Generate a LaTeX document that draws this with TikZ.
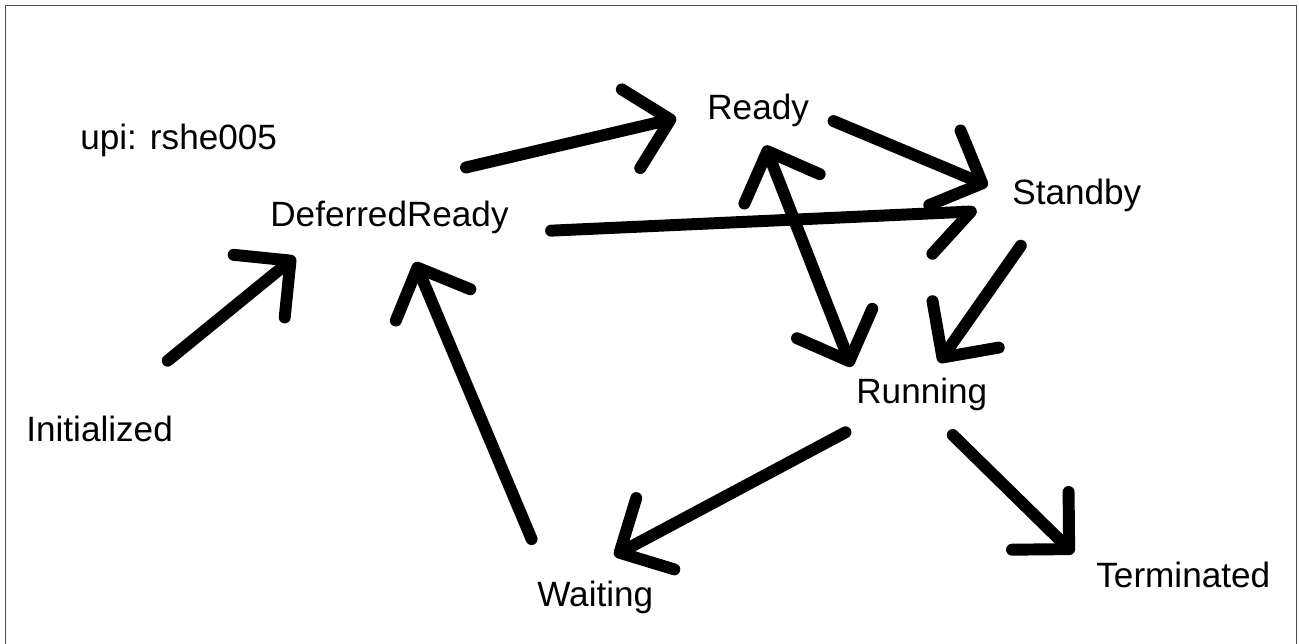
\documentclass[tikz,border=0pt]{standalone}
\usepackage{fontspec}
\setmainfont{Liberation Sans}
\usetikzlibrary{arrows.meta}

\begin{document}
\begin{tikzpicture}[x=0.02cm, y=-0.02cm,
  every node/.style={font=\fontsize{20}{24}\selectfont, inner sep=0pt, anchor=base west},
  arr/.style={line width=6.8pt, line cap=round, line join=round},
  >={Straight Barb[length=23pt, width=46pt, round]},
]
  \useasboundingbox (0,0) rectangle (1299,644);
  % Frame
  \draw[black!70, line width=1.1pt] (5.5,644) -- (5.5,5.5) -- (1296.5,5.5) -- (1296.5,644);

  % States
  \node (upi) at (80,150) {upi: rshe005};
  \node (defer) at (270,227) {DeferredReady};
  \node (ready) at (707,120) {Ready};
  \node (standby) at (1012,205) {Standby};
  \node (running) at (856,404) {Running};
  \node (init) at (26,442) {Initialized};
  \node (waiting) at (537,607) {Waiting};
  \node (term) at (1096,588) {Terminated};

  % Arrows
  \draw[arr, ->, shorten <=50pt, shorten >=20pt] (init.north) -- (defer.194);
  \draw[arr, ->, shorten <=84pt, shorten >=18pt] (defer.166) -- (ready.west);
  \draw[arr, ->, shorten <=15pt, shorten >=15pt] (ready.east) -- (standby.west);
  \draw[arr, -{Straight Barb[length=23pt, width=46pt, round, right]},
        shorten <=24pt, shorten >=20pt] (defer.-7) -- (standby.192);
  \draw[arr, <->, shorten <=11pt, shorten >=7pt] (ready.south) -- (running.north west);
  \draw[arr, ->, shorten <=23pt, shorten >=11pt] (standby.207) -- (running.70);
  \draw[arr, ->, shorten <=25pt, shorten >=31pt] (running.204) -- (waiting.150);
  \draw[arr, ->, shorten <=19pt, shorten >=18pt] (running.-67) -- (term.west);
  \draw[arr, ->, shorten <=26pt, shorten >=17pt] (waiting.160) -- (defer.-50);
\end{tikzpicture}
\end{document}
